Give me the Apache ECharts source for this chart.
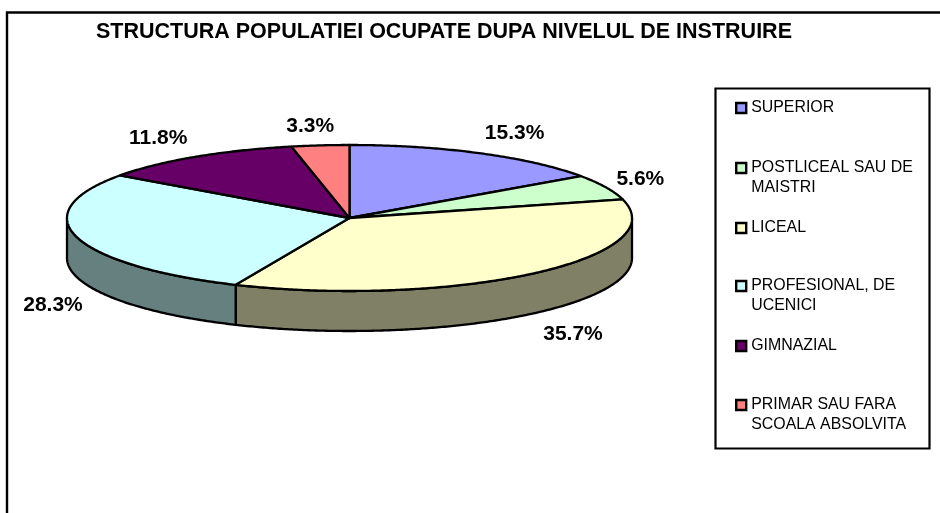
<!DOCTYPE html>
<html><head><meta charset="utf-8">
<style>html,body{margin:0;padding:0;background:#fff}#c{width:940px;height:513px}</style>
<script src="https://cdn.jsdelivr.net/npm/echarts@6/dist/echarts.min.js"></script>
</head><body><div id="c"></div>
<script>
const titleText = 'STRUCTURA POPULATIEI OCUPATE DUPA NIVELUL DE INSTRUIRE';
const categoryLines = [
  ['SUPERIOR'],
  ['POSTLICEAL SAU DE', 'MAISTRI'],
  ['LICEAL'],
  ['PROFESIONAL, DE', 'UCENICI'],
  ['GIMNAZIAL'],
  ['PRIMAR SAU FARA', 'SCOALA ABSOLVITA']
];
const shares = [15.3, 5.6, 35.7, 28.3, 11.8, 3.3];
const topColors = ['#9999FF', '#CCFFCC', '#FFFFCC', '#CCFFFF', '#660066', '#FF8080'];
const wallColors = ['#4D4D80', '#668066', '#808066', '#668080', '#330033', '#804040'];
const labelNudges = [[34.5, -20], [34.5, -8], [40, 61], [-24, 68], [-37, -19], [-10, -19]];
const legendRowY = [108, 168, 228, 286, 346, 405];

const PIE = {cx: 349.5, cy: 218, rx: 282.5, ry: 73, depth: 40};
const INK = '#000';
const EDGE = 2.3;
const FONT = '"Liberation Sans", Arial, sans-serif';
const categories = categoryLines.map(l => l.join(' '));
const total = shares.reduce((a, b) => a + b, 0);
const starts = shares.map((_, i) => shares.slice(0, i).reduce((a, b) => a + b, 0) / total * 360);

const rad = d => d * Math.PI / 180;
const rim = (deg, drop) => [
  PIE.cx + PIE.rx * Math.sin(rad(deg)),
  PIE.cy - PIE.ry * Math.cos(rad(deg)) + (drop || 0)
];
function arc(a, b, drop) {
  const n = Math.max(2, Math.ceil(Math.abs(b - a) * 2));
  const pts = [];
  for (let k = 0; k <= n; k++) pts.push(rim(a + (b - a) * k / n, drop));
  return pts;
}
function sliceItem(i) {
  return function (params, api) {
    const a = starts[i];
    const b = a + api.value(0) / total * 360;
    const children = [];
    const wa = Math.max(a, 90), wb = Math.min(b, 270);
    if (wb > wa) {
      children.push({
        type: 'polygon', silent: true,
        shape: {points: arc(wa, wb, 0).concat(arc(wb, wa, PIE.depth))},
        style: {fill: wallColors[i], stroke: INK, lineWidth: EDGE, lineJoin: 'round'}
      });
    }
    children.push({
      type: 'polygon', silent: true,
      shape: {points: [[PIE.cx, PIE.cy]].concat(arc(a, b, 0))},
      style: {fill: topColors[i], stroke: INK, lineWidth: EDGE, lineJoin: 'round'}
    });
    const mid = rim((a + b) / 2, 0);
    children.push({
      type: 'text', silent: true, z2: 10,
      style: {
        x: mid[0] + labelNudges[i][0], y: mid[1] + labelNudges[i][1],
        text: shares[i].toFixed(1) + '%',
        font: 'bold 21px ' + FONT, fill: INK, align: 'center', verticalAlign: 'middle'
      }
    });
    return {type: 'group', children};
  };
}

const chart = echarts.init(document.getElementById('c'), null, {renderer: 'canvas'});
chart.setOption({
  animation: false,
  backgroundColor: '#fff',
  title: {
    text: titleText, left: 96, top: 20, padding: 0,
    textStyle: {fontFamily: FONT, fontWeight: 'bold', fontSize: 21.5, color: INK, lineHeight: 24}
  },
  graphic: [
    {type: 'polyline', silent: true, z: -1,
     shape: {points: [[7, 513], [7, 12.5], [940, 12.5]]},
     style: {fill: null, stroke: INK, lineWidth: 2.4}},
    {type: 'rect', silent: true, z: -1,
     shape: {x: 715.5, y: 88.5, width: 214, height: 360},
     style: {fill: '#fff', stroke: INK, lineWidth: 2.2}}
  ],
  legend: categories.map((name, i) => ({
    data: [name], orient: 'vertical', left: 735, top: legendRowY[i] - 30, padding: 0,
    selectedMode: false, icon: 'rect', itemWidth: 10, itemHeight: 10, itemGap: 0,
    itemStyle: {borderColor: INK, borderWidth: 2.4},
    textStyle: {fontFamily: FONT, fontSize: 15.9, color: INK, lineHeight: 20, padding: 0},
    formatter: () => '\n' + categoryLines[i].join('\n') + (categoryLines[i].length > 1 ? '' : '\n')
  })),
  series: categories.map((name, i) => ({
    type: 'custom', name, coordinateSystem: 'none', silent: true,
    itemStyle: {color: topColors[i]},
    data: [[shares[i]]],
    renderItem: sliceItem(i)
  }))
});
</script></body></html>
